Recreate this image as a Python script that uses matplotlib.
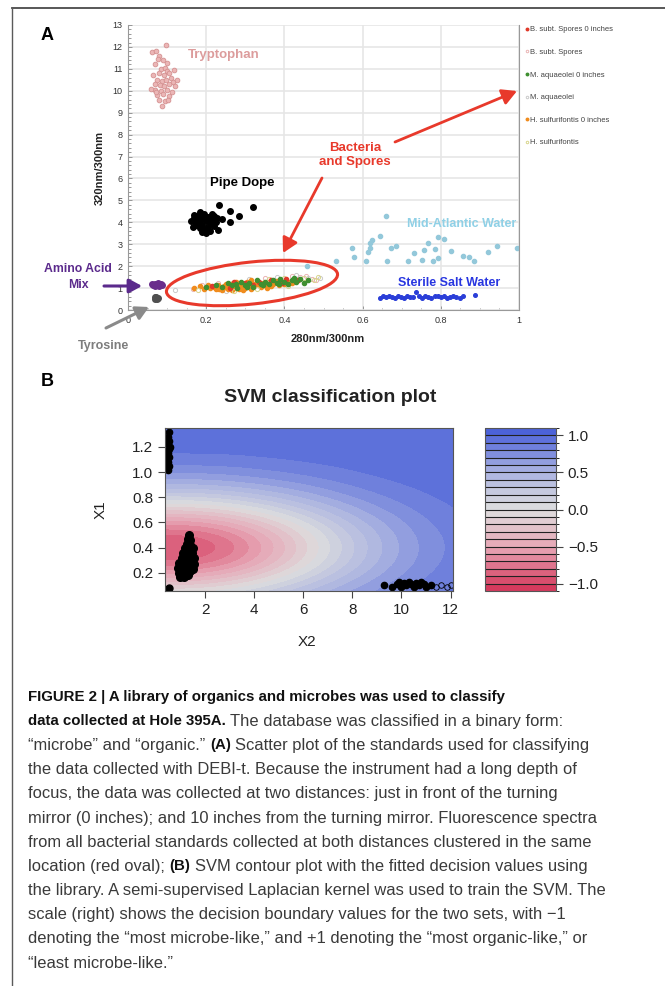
import matplotlib
matplotlib.use("Agg")
import matplotlib.pyplot as plt
import numpy as np
from matplotlib.colors import LinearSegmentedColormap, ListedColormap, BoundaryNorm
from matplotlib.patches import Ellipse
from matplotlib.lines import Line2D
from matplotlib.ticker import MultipleLocator
import matplotlib.cm as cm

W, H, DPI = 665, 986, 100
plt.rcParams["font.family"] = ["Liberation Sans", "DejaVu Sans"]

# ---------------------------------------------------------------- panel A data
tryptophan_x = [0.097, 0.062, 0.072, 0.080, 0.090, 0.070, 0.085, 0.095, 0.100, 0.105,
                0.080, 0.092, 0.110, 0.075, 0.088, 0.098, 0.115, 0.068, 0.082, 0.093,
                0.105, 0.120, 0.070, 0.085, 0.100, 0.112, 0.075, 0.090, 0.105, 0.080,
                0.095, 0.086, 0.078, 0.100, 0.063, 0.118, 0.072, 0.102, 0.125, 0.060]
tryptophan_y = [12.10, 11.75, 11.80, 11.60, 11.40, 11.20, 11.00, 11.05, 10.90, 10.80,
                10.80, 10.70, 10.60, 10.50, 10.45, 10.50, 10.40, 10.30, 10.25, 10.20,
                10.30, 10.20, 10.05, 10.00, 10.05, 9.95, 9.80, 9.85, 9.75, 9.60,
                9.55, 9.30, 11.45, 11.25, 10.70, 10.95, 9.95, 9.60, 10.50, 10.10]

pipe_dope_x = [0.160, 0.170, 0.175, 0.180, 0.180, 0.185, 0.190, 0.190, 0.195, 0.200,
               0.200, 0.205, 0.210, 0.210, 0.215, 0.220, 0.220, 0.225, 0.165, 0.170,
               0.185, 0.195, 0.200, 0.215, 0.230, 0.233, 0.260, 0.262, 0.285, 0.320,
               0.240, 0.175, 0.205, 0.188, 0.228]
pipe_dope_y = [4.05, 4.20, 3.90, 4.30, 4.00, 3.75, 4.15, 3.90, 4.40, 4.05,
               3.70, 4.25, 3.95, 3.60, 4.10, 4.30, 3.85, 4.00, 3.80, 4.35,
               4.45, 3.65, 3.50, 4.40, 3.67, 4.77, 4.00, 4.50, 4.30, 4.68,
               4.15, 4.10, 3.80, 3.55, 4.20]

hsulf0_x = [0.170, 0.185, 0.195, 0.205, 0.210, 0.220, 0.225, 0.230, 0.235, 0.240,
            0.245, 0.250, 0.255, 0.260, 0.265, 0.270, 0.275, 0.280, 0.285, 0.290,
            0.295, 0.300, 0.305, 0.310, 0.315, 0.320, 0.325, 0.330, 0.340, 0.345,
            0.350, 0.360, 0.365, 0.370, 0.380, 0.385, 0.390, 0.400, 0.410, 0.420,
            0.255, 0.275, 0.295, 0.315, 0.335, 0.355, 0.268, 0.288, 0.248, 0.232]
hsulf0_y = [1.02, 1.08, 0.98, 1.12, 1.00, 1.06, 0.94, 1.15, 1.02, 0.92,
            1.10, 1.20, 0.98, 1.08, 0.90, 1.16, 1.02, 1.25, 0.95, 1.10,
            1.18, 1.00, 1.28, 1.08, 0.98, 1.20, 1.12, 1.30, 1.05, 1.22,
            1.15, 1.28, 1.10, 1.20, 1.32, 1.15, 1.25, 1.18, 1.30, 1.22,
            1.14, 1.30, 0.92, 1.35, 1.12, 1.02, 1.22, 1.04, 1.04, 0.98]

maqua0_x = [0.200, 0.225, 0.240, 0.255, 0.265, 0.280, 0.290, 0.300, 0.310, 0.320,
            0.330, 0.340, 0.350, 0.360, 0.370, 0.380, 0.390, 0.400, 0.410, 0.420,
            0.430, 0.440, 0.450, 0.460, 0.275, 0.305, 0.345, 0.385, 0.425]
maqua0_y = [1.05, 1.15, 1.05, 1.25, 1.12, 1.02, 1.30, 1.15, 1.25, 1.05,
            1.38, 1.20, 1.30, 1.18, 1.38, 1.25, 1.40, 1.30, 1.20, 1.38,
            1.30, 1.42, 1.25, 1.35, 1.18, 1.05, 1.12, 1.18, 1.45]

bsubt0_x = [0.215, 0.260, 0.300, 0.335, 0.365, 0.395, 0.405, 0.435, 0.270, 0.320]
bsubt0_y = [1.10, 1.00, 1.22, 1.28, 1.35, 1.22, 1.40, 1.35, 1.28, 1.15]

bsubt_x = [0.165, 0.190, 0.440, 0.470, 0.455, 0.480, 0.350, 0.420, 0.230]
bsubt_y = [0.95, 1.15, 1.50, 1.42, 1.55, 1.38, 1.45, 1.55, 1.25]

maqua_x = [0.120, 0.460, 0.430, 0.380, 0.310, 0.490, 0.250]
maqua_y = [0.90, 1.48, 1.58, 1.50, 1.42, 1.45, 0.85]

hsulf_x = [0.400, 0.450, 0.475, 0.360, 0.330, 0.270, 0.410, 0.485, 0.180]
hsulf_y = [1.48, 1.45, 1.35, 1.42, 0.95, 0.88, 1.10, 1.50, 0.90]

atlantic_x = [0.659, 0.531, 0.574, 0.577, 0.608, 0.618, 0.615, 0.623, 0.620, 0.644,
              0.662, 0.672, 0.685, 0.715, 0.731, 0.751, 0.756, 0.767, 0.779, 0.785,
              0.792, 0.792, 0.808, 0.826, 0.856, 0.872, 0.885, 0.921, 0.944, 0.995,
              0.459]
atlantic_y = [4.31, 2.25, 2.84, 2.43, 2.25, 2.84, 2.66, 3.21, 3.07, 3.39,
              2.25, 2.84, 2.94, 2.25, 2.61, 2.29, 2.75, 3.07, 2.25, 2.80,
              2.39, 3.35, 3.26, 2.71, 2.48, 2.43, 2.25, 2.66, 2.94, 2.84,
              2.02]

salt_x = [0.645, 0.652, 0.660, 0.667, 0.675, 0.683, 0.690, 0.698, 0.706, 0.714,
          0.722, 0.730, 0.737, 0.745, 0.752, 0.760, 0.768, 0.776, 0.784, 0.792,
          0.800, 0.808, 0.816, 0.824, 0.832, 0.840, 0.848, 0.856, 0.887]
salt_y = [0.55, 0.62, 0.58, 0.66, 0.60, 0.57, 0.64, 0.61, 0.56, 0.63,
          0.60, 0.58, 0.80, 0.62, 0.57, 0.65, 0.60, 0.55, 0.63, 0.66,
          0.59, 0.62, 0.57, 0.61, 0.64, 0.58, 0.55, 0.62, 0.68]

amino_x = [0.065, 0.070, 0.075, 0.080, 0.085, 0.070, 0.078, 0.062, 0.088]
amino_y = [1.12, 1.20, 1.15, 1.10, 1.18, 1.08, 1.22, 1.18, 1.12]

tyrosine_x = [0.068, 0.072, 0.076, 0.070, 0.075]
tyrosine_y = [0.52, 0.58, 0.54, 0.60, 0.50]

a_xticks = [0, 0.2, 0.4, 0.6, 0.8, 1.0]
a_xticklabels = ["0", "0.2", "0.4", "0.6", "0.8", "1"]
a_yticks = list(range(0, 14))

# ---------------------------------------------------------------- panel B data
# fitted decision values on a regular (X2, X1) grid
grid_x2 = [0.0, 1.5, 3.0, 4.5, 6.0, 7.5, 9.0, 10.5, 12.0, 13.5]
grid_x1 = [0.00, 0.15, 0.30, 0.45, 0.60, 0.75, 0.90, 1.05, 1.20, 1.35, 1.50]
decision_values = [
    [0.20, 0.20, 0.26, 0.38, 0.52, 0.66, 0.78, 0.87, 0.93, 0.96],
    [-0.39, -0.39, -0.28, -0.08, 0.17, 0.41, 0.62, 0.77, 0.88, 0.94],
    [-0.87, -0.87, -0.72, -0.45, -0.12, 0.20, 0.48, 0.69, 0.83, 0.92],
    [-0.95, -0.95, -0.80, -0.51, -0.17, 0.17, 0.46, 0.68, 0.82, 0.91],
    [-0.57, -0.58, -0.45, -0.22, 0.05, 0.33, 0.56, 0.74, 0.86, 0.93],
    [0.01, 0.01, 0.09, 0.23, 0.41, 0.58, 0.73, 0.84, 0.91, 0.96],
    [0.52, 0.52, 0.56, 0.63, 0.71, 0.80, 0.87, 0.92, 0.96, 0.98],
    [0.82, 0.82, 0.83, 0.86, 0.89, 0.92, 0.95, 0.97, 0.98, 0.99],
    [0.95, 0.95, 0.95, 0.96, 0.97, 0.98, 0.99, 0.99, 1.00, 1.00],
    [0.99, 0.99, 0.99, 0.99, 0.99, 0.99, 1.00, 1.00, 1.00, 1.00],
    [1.00, 1.00, 1.00, 1.00, 1.00, 1.00, 1.00, 1.00, 1.00, 1.00],
]
levels = np.round(np.arange(-1.1, 1.1001, 0.1), 2)

sv_top_x2 = [0.50, 0.55, 0.50, 0.55, 0.50, 0.55, 0.50, 0.55, 0.50, 0.52, 0.58, 0.47]
sv_top_x1 = [1.02, 1.05, 1.08, 1.12, 1.15, 1.18, 1.22, 1.25, 1.28, 1.32, 1.20, 1.10]

sv_blob_x2 = [1.35, 1.30, 1.40, 1.25, 1.40, 1.20, 1.35, 1.50, 1.10, 1.25, 1.45, 1.05,
              1.20, 1.35, 1.55, 0.95, 1.10, 1.25, 1.40, 1.55, 0.90, 1.05, 1.20, 1.35,
              1.50, 0.95, 1.10, 1.25, 1.40, 1.00, 1.15, 1.30]
sv_blob_x1 = [0.50, 0.47, 0.46, 0.43, 0.42, 0.40, 0.39, 0.40, 0.36, 0.36, 0.36, 0.32,
              0.32, 0.32, 0.32, 0.28, 0.28, 0.28, 0.28, 0.27, 0.24, 0.24, 0.24, 0.24,
              0.23, 0.20, 0.20, 0.20, 0.21, 0.17, 0.17, 0.18]

sv_corner_x2 = [0.55]
sv_corner_x1 = [0.08]

sv_right_x2 = [9.3, 9.6, 9.8, 10.0, 10.1, 10.2, 10.4, 10.5, 10.6, 10.7, 10.9, 11.0,
               10.3, 9.9, 10.8, 11.2]
sv_right_x1 = [0.10, 0.09, 0.11, 0.09, 0.12, 0.10, 0.11, 0.09, 0.12, 0.10, 0.11, 0.09,
               0.13, 0.13, 0.13, 0.10]
sv_open_x2 = [11.4, 11.6, 11.85, 12.0]
sv_open_x1 = [0.09, 0.10, 0.09, 0.10]

b_xticks = [2, 4, 6, 8, 10, 12]
b_yticks = [0.2, 0.4, 0.6, 0.8, 1.0, 1.2]
cbar_ticks = [-1.0, -0.5, 0.0, 0.5, 1.0]
cbar_ticklabels = ["\u22121.0", "\u22120.5", "0.0", "0.5", "1.0"]

caption_lines = [
    [("FIGURE 2 | A library of organics and microbes was used to classify", True)],
    [("data collected at Hole 395A.", True),
     (" The database was classified in a binary form:", False)],
    [("\u201cmicrobe\u201d and \u201corganic.\u201d ", False), ("(A)", True),
     (" Scatter plot of the standards used for classifying", False)],
    [("the data collected with DEBI-t. Because the instrument had a long depth of", False)],
    [("focus, the data was collected at two distances: just in front of the turning", False)],
    [("mirror (0 inches); and 10 inches from the turning mirror. Fluorescence spectra", False)],
    [("from all bacterial standards collected at both distances clustered in the same", False)],
    [("location (red oval); ", False), ("(B)", True),
     (" SVM contour plot with the fitted decision values using", False)],
    [("the library. A semi-supervised Laplacian kernel was used to train the SVM. The", False)],
    [("scale (right) shows the decision boundary values for the two sets, with \u22121", False)],
    [("denoting the \u201cmost microbe-like,\u201d and +1 denoting the \u201cmost organic-like,\u201d or", False)],
    [("\u201cleast microbe-like.\u201d", False)],
]


def px_rect(x0, y0, x1, y1):
    return [x0 / W, 1 - y1 / H, (x1 - x0) / W, (y1 - y0) / H]


def ftext(x, y, s, **kw):
    return fig.text(x / W, 1 - y / H, s, **kw)


fig = plt.figure(figsize=(W / DPI, H / DPI), dpi=DPI)

# frame lines of the figure panel
fig.add_artist(Line2D([12 / W, 1], [1 - 8 / H, 1 - 8 / H], transform=fig.transFigure,
                      color="#4a4a4a", lw=1.3))
fig.add_artist(Line2D([12 / W, 12 / W], [0, 1 - 8 / H], transform=fig.transFigure,
                      color="#5a5a5a", lw=1.0))

# ================================================================= panel A
axA = fig.add_axes(px_rect(128, 25, 519, 310))
axA.set_xlim(0, 1)
axA.set_ylim(0, 13)
axA.set_xticks(a_xticks)
axA.set_xticklabels(a_xticklabels)
axA.set_yticks(a_yticks)
axA.xaxis.set_minor_locator(MultipleLocator(0.05))
axA.yaxis.set_minor_locator(MultipleLocator(0.2))
axA.grid(True, which="major", color="#e6e6e6", lw=1.2)
axA.set_axisbelow(True)
axA.tick_params(which="both", direction="in", colors="#888888", labelcolor="#333333",
                labelsize=6.5, length=3, width=0.6, pad=4)
axA.tick_params(which="minor", length=1.8)
axA.spines["top"].set_visible(False)
for s in ("left", "bottom", "right"):
    axA.spines[s].set_color("#999999")
    axA.spines[s].set_linewidth(0.8)

axA.plot(tryptophan_x, tryptophan_y, "o", ms=3.4, mfc="#ebb6b6", mec="#d49090", mew=0.6)
axA.plot(pipe_dope_x, pipe_dope_y, "o", ms=4.0, color="black")
axA.plot(atlantic_x, atlantic_y, "o", ms=3.0, color="#93c8da")
axA.plot(salt_x, salt_y, "o", ms=2.6, color="#2a3ed8")
axA.plot(amino_x, amino_y, "o", ms=4.0, color="#6a2d8c")
axA.plot(tyrosine_x, tyrosine_y, "o", ms=4.0, color="#505050")

h_bsubt0, = axA.plot(bsubt0_x, bsubt0_y, "o", ms=3.0, color="#e03a2a",
                     label="B. subt. Spores 0 inches")
h_bsubt, = axA.plot(bsubt_x, bsubt_y, "o", ms=3.0, mfc="none", mec="#eab4b4", mew=0.7,
                    label="B. subt. Spores")
h_maqua0, = axA.plot(maqua0_x, maqua0_y, "o", ms=3.0, color="#3f8f30",
                     label="M. aquaeolei 0 inches")
h_maqua, = axA.plot(maqua_x, maqua_y, "o", ms=3.0, mfc="none", mec="#c9c9c9", mew=0.7,
                    label="M. aquaeolei")
h_hsulf0, = axA.plot(hsulf0_x, hsulf0_y, "o", ms=3.0, color="#f08c1e",
                     label="H. sulfurifontis 0 inches")
h_hsulf, = axA.plot(hsulf_x, hsulf_y, "o", ms=3.0, mfc="none", mec="#d8d58c", mew=0.7,
                    label="H. sulfurifontis")
# draw the green/red layers over the orange bulk
for h in (h_maqua0, h_bsubt0):
    h.set_zorder(3)

leg = fig.legend(handles=[h_bsubt0, h_bsubt, h_maqua0, h_maqua, h_hsulf0, h_hsulf],
                 loc="upper left", bbox_to_anchor=(525 / W, 1 - 26 / H),
                 frameon=False, fontsize=5.5, markerscale=0.6, handlelength=0.4,
                 handletextpad=0.3, labelspacing=2.0, borderpad=0, borderaxespad=0)
for t in leg.get_texts():
    t.set_color("#444444")

ftext(100, 168, "320nm/300nm", rotation=90, ha="center", va="center",
      fontsize=8, fontweight="bold", color="#222222")
ftext(328, 339, "280nm/300nm", ha="center", va="center", fontsize=8,
      fontweight="bold", color="#222222")

ftext(224, 55, "Tryptophan", ha="center", va="center", fontsize=9.5,
      fontweight="bold", color="#dc9c9c")
ftext(242, 183, "Pipe Dope", ha="center", va="center", fontsize=9.5,
      fontweight="bold", color="black")
ftext(355, 155, "Bacteria\nand Spores", ha="center", va="center", fontsize=9.5,
      fontweight="bold", color="#e8392b", linespacing=1.3)
ftext(462, 224, "Mid-Atlantic Water", ha="center", va="center", fontsize=9,
      fontweight="bold", color="#8fd0e6")
ftext(449, 283, "Sterile Salt Water", ha="center", va="center", fontsize=9,
      fontweight="bold", color="#2836e0")
ftext(78, 269, "Amino Acid", ha="center", va="center", fontsize=8.8,
      fontweight="bold", color="#5b2a8c")
ftext(78, 285, "Mix", ha="center", va="center", fontsize=8.8,
      fontweight="bold", color="#5b2a8c")
ftext(104, 346, "Tyrosine", ha="center", va="center", fontsize=9,
      fontweight="bold", color="#7d7d7d")

def arrow(x0, y0, x1, y1, color, lw, scale):
    axA.annotate("", xy=(x1, H - y1), xycoords="figure pixels",
                 xytext=(x0, H - y0), textcoords="figure pixels",
                 arrowprops=dict(arrowstyle="-|>,head_length=0.55,head_width=0.3",
                                 color=color, lw=lw, mutation_scale=scale,
                                 shrinkA=0, shrinkB=0))

arrow(322, 178, 283, 253, "#e8392b", 2.0, 16)
arrow(395, 142, 517, 91, "#e8392b", 2.0, 16)
arrow(104, 286, 142, 286, "#5b2a8c", 2.2, 14)
arrow(106, 328, 149, 307, "#8a8a8a", 2.2, 14)

oval = Ellipse((252 / DPI, (H - 283) / DPI), 172 / DPI, 42 / DPI, angle=6,
               transform=fig.dpi_scale_trans, fill=False, ec="#e8392b", lw=2.2)
fig.add_artist(oval)

ftext(47, 35, "A", ha="center", va="center", fontsize=13, fontweight="bold")

# ================================================================= panel B
band_anchor = LinearSegmentedColormap.from_list(
    "svm", ["#d53a5d", "#e7a3b3", "#dedede", "#a9b2e1", "#4c62d9"])
band_colors = band_anchor(np.linspace(0, 1, len(levels) - 1))
cmap = ListedColormap(band_colors)
norm = BoundaryNorm(levels, cmap.N)

axB = fig.add_axes(px_rect(165, 428, 453, 591))
gx = np.array(grid_x2)
gy = np.array(grid_x1)
dx = gx[1] - gx[0]
dy = gy[1] - gy[0]
axB.imshow(np.array(decision_values), origin="lower", aspect="auto", cmap=cmap, norm=norm,
           extent=(gx[0] - dx / 2, gx[-1] + dx / 2, gy[0] - dy / 2, gy[-1] + dy / 2),
           interpolation="bicubic", interpolation_stage="data")
axB.plot(sv_top_x2, sv_top_x1, "o", ms=4.5, color="black")
axB.plot(sv_blob_x2, sv_blob_x1, "o", ms=5.5, color="black")
axB.plot(sv_corner_x2, sv_corner_x1, "o", ms=5.0, color="black")
axB.plot(sv_right_x2, sv_right_x1, "o", ms=4.5, color="black")
axB.plot(sv_open_x2, sv_open_x1, "o", ms=4.0, mfc="none", mec="black", mew=0.6)
axB.set_xlim(0.37, 12.1)
axB.set_ylim(0.055, 1.35)
axB.set_xticks(b_xticks)
axB.set_yticks(b_yticks)
axB.set_yticklabels([f"{v:.1f}" for v in b_yticks])
axB.tick_params(labelsize=11, length=5, width=0.8, colors="#444444", labelcolor="#222222")
for s in axB.spines.values():
    s.set_color("#555555")
    s.set_linewidth(0.8)
ftext(101, 510, "X1", rotation=90, ha="center", va="center", fontsize=11, color="#222222")
ftext(307, 642, "X2", ha="center", va="center", fontsize=11, color="#222222")
ftext(330, 398, "SVM classification plot", ha="center", va="center", fontsize=14,
      fontweight="bold", color="#222222")
ftext(47, 381, "B", ha="center", va="center", fontsize=13, fontweight="bold")

cax = fig.add_axes(px_rect(485, 428, 556, 591))
cb = fig.colorbar(cm.ScalarMappable(norm=norm, cmap=cmap), cax=cax, boundaries=levels,
                  ticks=cbar_ticks, drawedges=True)
cb.set_ticklabels(cbar_ticklabels)
cb.dividers.set_color("#222222")
cb.dividers.set_linewidth(0.8)
cb.outline.set_edgecolor("#555555")
cb.outline.set_linewidth(0.8)
cax.tick_params(labelsize=11, length=5, width=0.8, colors="#444444", labelcolor="#222222")

# ================================================================= caption
renderer = fig.canvas.get_renderer()
BOLD_SIZE = 10.8
REG_SIZE = 11.9


def space_width(size):
    a = fig.text(0, 0, "x x", fontsize=size)
    b = fig.text(0, 0, "xx", fontsize=size)
    w = a.get_window_extent(renderer).width - b.get_window_extent(renderer).width
    a.remove()
    b.remove()
    return w


space_reg = space_width(REG_SIZE)

for i, runs in enumerate(caption_lines):
    y = 697 + i * 24.2
    x = 28.0
    for txt, bold in runs:
        lead = len(txt) - len(txt.lstrip(" "))
        trail = len(txt) - len(txt.rstrip(" "))
        x += lead * space_reg
        t = ftext(x, y, txt.strip(" "), ha="left", va="center",
                  fontsize=BOLD_SIZE if bold else REG_SIZE,
                  fontweight="bold" if bold else "normal",
                  color="#111111" if bold else "#3a3a3a")
        x += t.get_window_extent(renderer).width + trail * space_reg

fig.savefig("out.png", dpi=DPI)
